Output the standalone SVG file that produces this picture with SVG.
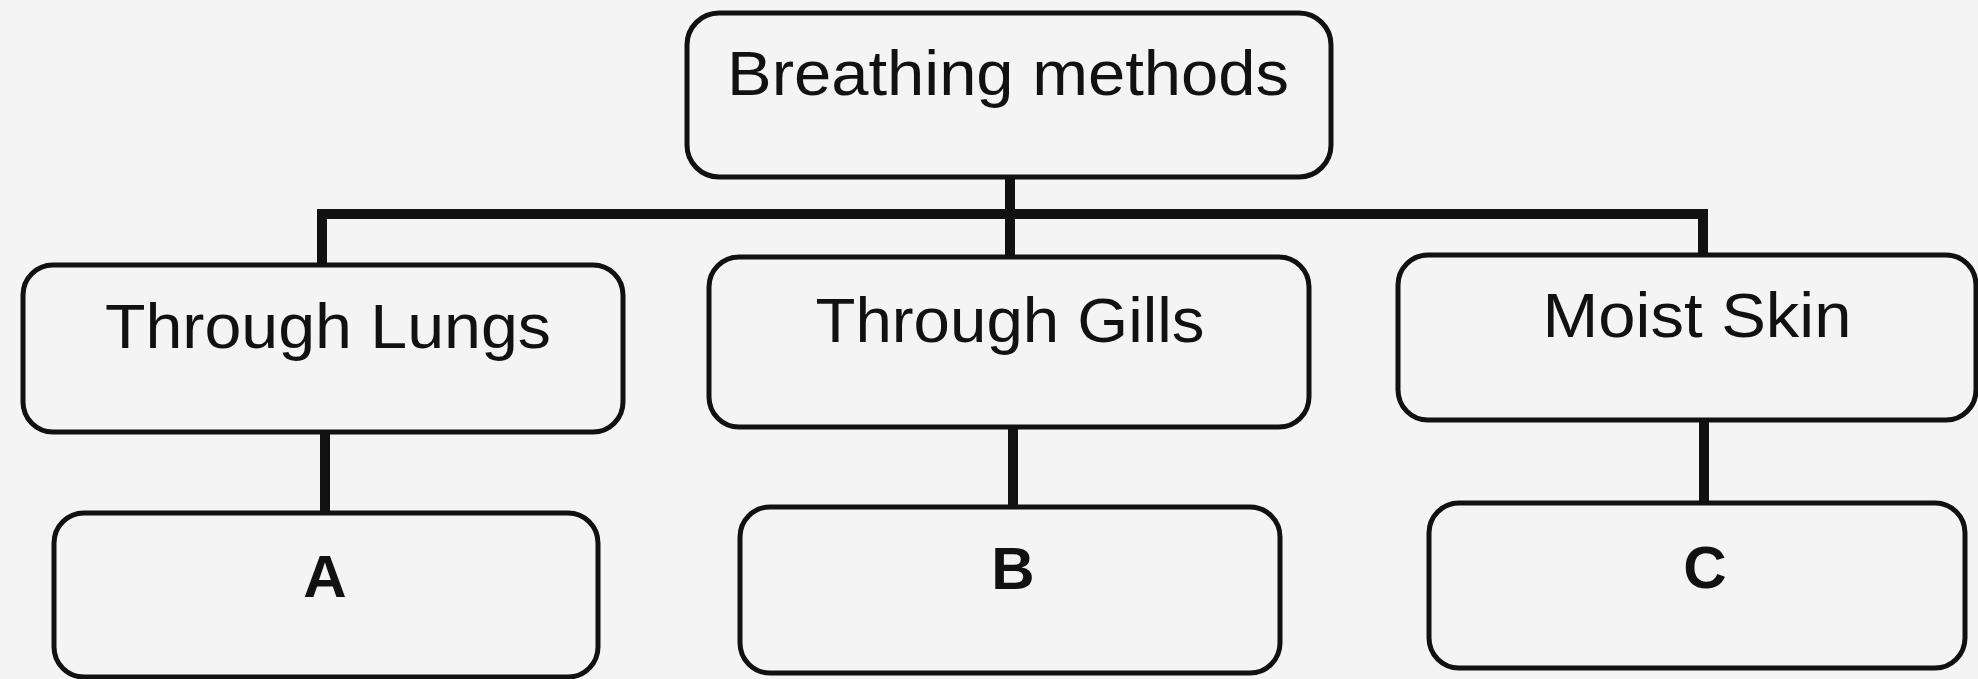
<svg xmlns="http://www.w3.org/2000/svg" width="1978" height="679" viewBox="0 0 1978 679">
  <style>
    .box { fill: #f4f4f4; stroke: #111; stroke-width: 5; }
    .label { font-family: "Liberation Sans", Arial, sans-serif; font-size: 63px; fill: #111; text-anchor: middle; }
    .key { font-family: "Liberation Sans", Arial, sans-serif; font-size: 60px; font-weight: bold; fill: #111; text-anchor: middle; }
    .wire { stroke: #111; stroke-width: 10; fill: none; }
  </style>
  <rect width="1978" height="679" fill="#f4f4f4"/>

  <!-- connectors -->
  <g id="connectors">
    <line class="wire" x1="1010" y1="177" x2="1010" y2="257"/>
    <line class="wire" x1="317" y1="214" x2="1708" y2="214"/>
    <line class="wire" x1="322" y1="209" x2="322" y2="265"/>
    <line class="wire" x1="1703" y1="209" x2="1703" y2="255"/>
    <line class="wire" x1="325" y1="432" x2="325" y2="513"/>
    <line class="wire" x1="1013" y1="427" x2="1013" y2="507"/>
    <line class="wire" x1="1704" y1="420" x2="1704" y2="503"/>
  </g>

  <!-- root -->
  <g id="breathing-methods">
    <rect class="box" x="687" y="13" width="644" height="164" rx="32"/>
    <text class="label" x="1008" y="95" textLength="562" lengthAdjust="spacingAndGlyphs">Breathing methods</text>
  </g>

  <!-- second level -->
  <g id="through-lungs">
    <rect class="box" x="23" y="265" width="600" height="167" rx="30"/>
    <text class="label" x="328" y="348" textLength="446" lengthAdjust="spacingAndGlyphs">Through Lungs</text>
  </g>
  <g id="through-gills">
    <rect class="box" x="709" y="257" width="600" height="170" rx="30"/>
    <text class="label" x="1010" y="342" textLength="389" lengthAdjust="spacingAndGlyphs">Through Gills</text>
  </g>
  <g id="moist-skin">
    <rect class="box" x="1398" y="255" width="578" height="165" rx="30"/>
    <text class="label" x="1697" y="337" textLength="309" lengthAdjust="spacingAndGlyphs">Moist Skin</text>
  </g>

  <!-- third level -->
  <g id="a">
    <rect class="box" x="54" y="513" width="544" height="164" rx="30"/>
    <text class="key" x="325" y="597">A</text>
  </g>
  <g id="b">
    <rect class="box" x="740" y="507" width="540" height="166" rx="30"/>
    <text class="key" x="1013" y="589">B</text>
  </g>
  <g id="c">
    <rect class="box" x="1429" y="503" width="536" height="165" rx="30"/>
    <text class="key" x="1705" y="588">C</text>
  </g>
</svg>
